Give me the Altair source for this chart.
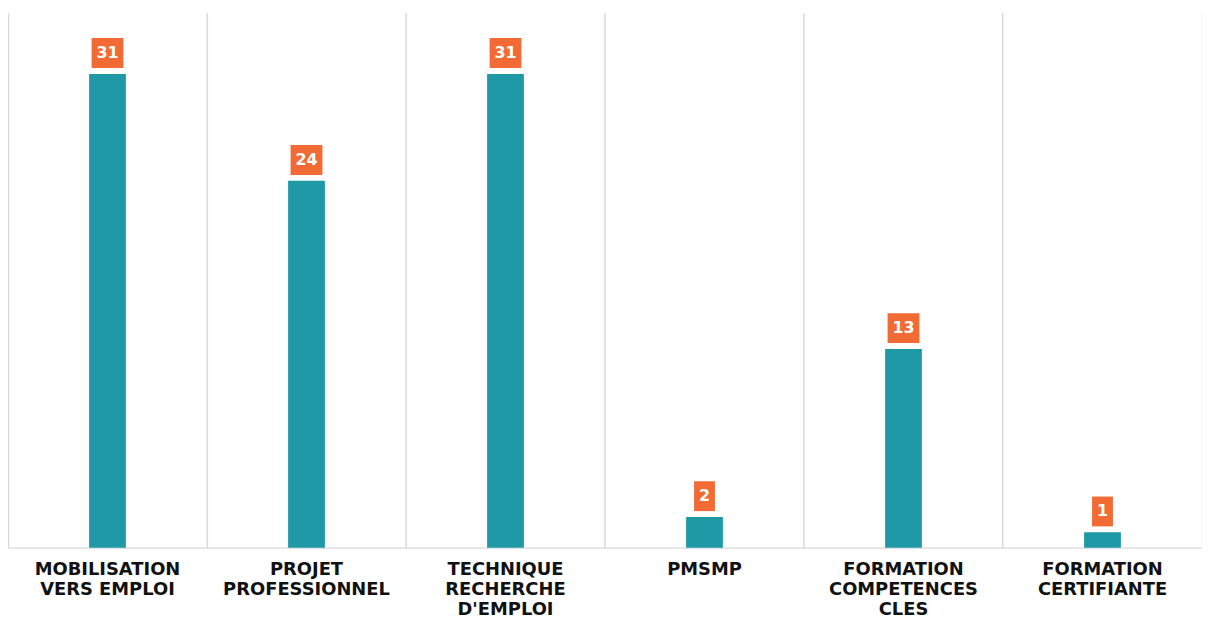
import altair as alt
import pandas as pd

categories = [
    "MOBILISATION\nVERS EMPLOI",
    "PROJET\nPROFESSIONNEL",
    "TECHNIQUE\nRECHERCHE\nD'EMPLOI",
    "PMSMP",
    "FORMATION\nCOMPETENCES\nCLES",
    "FORMATION\nCERTIFIANTE",
]
values = [31, 24, 31, 2, 13, 1]

df = pd.DataFrame({"cat": categories, "value": values})

TEAL = "#1f99a6"
ORANGE = "#f26b35"
GRID = "#d9d9d9"

x = alt.X(
    "cat:N",
    sort=categories,
    scale=alt.Scale(paddingInner=0, paddingOuter=0),
    axis=alt.Axis(
        title=None,
        labelAngle=0,
        labelExpr="split(datum.label, '\\n')",
        labelFont="DejaVu Sans",
        labelFontWeight="bold",
        labelFontSize=18,
        labelColor="#111111",
        labelLineHeight=20,
        labelPadding=13,
        ticks=False,
        grid=True,
        gridColor=GRID,
        gridWidth=1.5,
        bandPosition=0,
        domainColor=GRID,
        domainWidth=1.5,
    ),
)
y = alt.Y(
    "value:Q",
    scale=alt.Scale(domain=[0, 35], nice=False),
    axis=alt.Axis(
        title=None,
        orient="right",
        labels=False,
        ticks=False,
        grid=False,
        domainColor=GRID,
        domainWidth=1.5,
    ),
)

base = alt.Chart(df)

bars = base.mark_bar(color=TEAL, width=37).encode(x=x, y=y)

box2 = base.transform_filter("datum.value >= 10").mark_bar(
    color=ORANGE, width=32, yOffset=-6, y2Offset=-36
).encode(x=x, y=y, y2=alt.Y2("value:Q"))

box1 = base.transform_filter("datum.value < 10").mark_bar(
    color=ORANGE, width=21, yOffset=-6, y2Offset=-36
).encode(x=x, y=y, y2=alt.Y2("value:Q"))

labels = base.mark_text(
    color="white",
    font="DejaVu Sans",
    fontWeight="bold",
    fontSize=16,
    baseline="middle",
    align="center",
    dy=-21,
).encode(x=x, y=y, text="value:Q")

chart = (
    alt.layer(bars, box2, box1, labels)
    .properties(
        width=1201,
        height=538,
        padding={"left": 0, "top": 3, "right": 0, "bottom": 70},
        autosize=alt.AutoSizeParams(type="none"),
    )
    .configure_view(stroke=None)
)

chart.save("out.html", embed_options={"renderer": "svg", "actions": False})
